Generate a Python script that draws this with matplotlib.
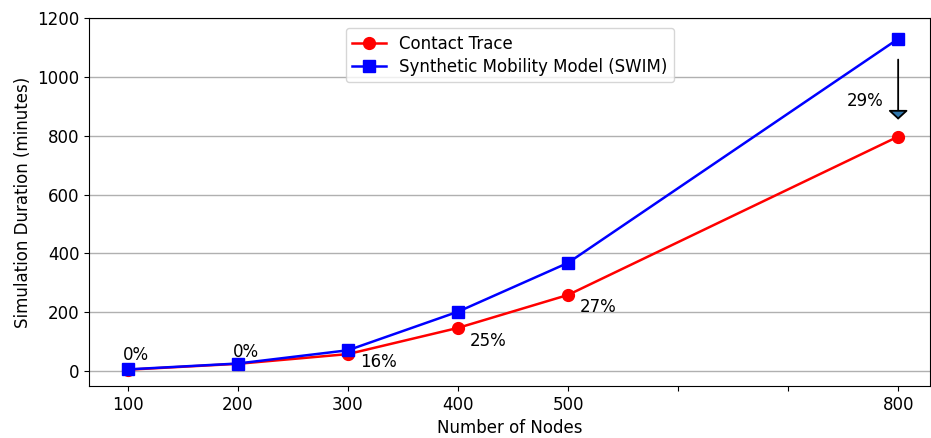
import matplotlib
matplotlib.use("Agg")
import matplotlib.pyplot as plt

nodes = [100, 200, 300, 400, 500, 800]
contact_trace = [5, 25, 58, 147, 259, 797]
swim = [6, 26, 71, 202, 368, 1129]

pct_labels = ["0%", "0%", "16%", "25%", "27%"]
pct_pos = [(95, 54), (195, 66), (311, 30), (411, 103), (511, 218)]

xticks = [100, 200, 300, 400, 500, 600, 700, 800]
xticklabels = ["100", "200", "300", "400", "500", "", "", "800"]

fig = plt.figure(figsize=(9.31, 4.38), dpi=100)
ax = fig.add_axes([0.096, 0.119, 0.903, 0.840])

ax.plot(nodes, contact_trace, color="red", marker="o", markersize=8.5, lw=1.8,
        label="Contact Trace")
ax.plot(nodes, swim, color="blue", marker="s", markersize=8.5, lw=1.8,
        label="Synthetic Mobility Model (SWIM)")

for txt, (x, y) in zip(pct_labels, pct_pos):
    ax.text(x, y, txt, fontsize=12, ha="left", va="center")

# arrow showing reduction at 800 nodes
ax.annotate("", xy=(800, 845), xytext=(800, 1068),
            arrowprops=dict(arrowstyle="-|>,head_width=0.6,head_length=0.55",
                            fc="#2f76ac", ec="black", lw=1.3))
ax.text(753, 918, "29%", fontsize=12, ha="left", va="center")

ax.set_xlim(65, 829)
ax.set_ylim(-50, 1200)
ax.set_xticks(xticks)
ax.set_xticklabels(xticklabels)
ax.set_yticks(range(0, 1201, 200))
ax.tick_params(labelsize=12)
ax.yaxis.grid(True, color="#b0b0b0", lw=1)
ax.set_axisbelow(True)
ax.set_xlabel("Number of Nodes", fontsize=12)
ax.set_ylabel("Simulation Duration (minutes)", fontsize=12)
ax.legend(loc="upper center", fontsize=12, bbox_to_anchor=(0.5, 0.995),
          labelspacing=0.3)

fig.savefig("out.png", dpi=100)
